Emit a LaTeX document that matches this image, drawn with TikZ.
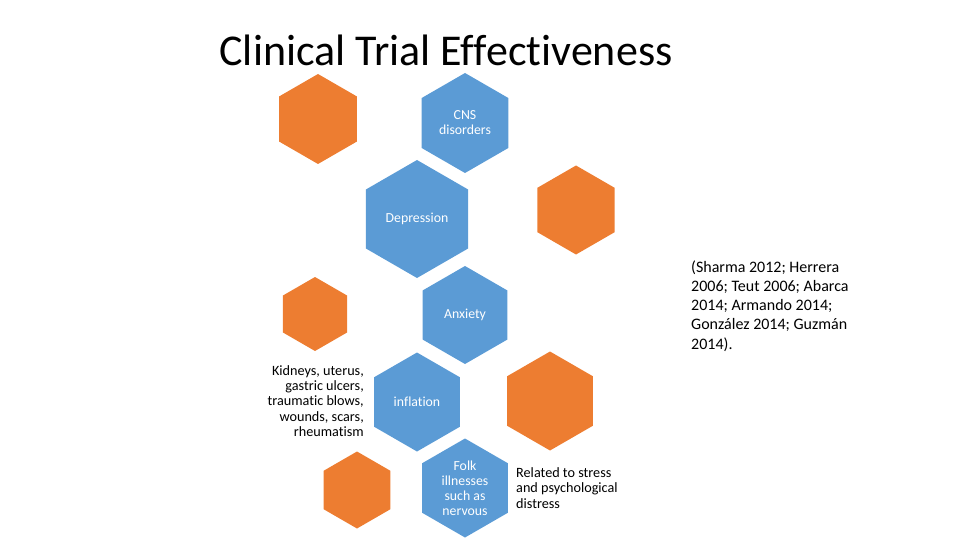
\documentclass[tikz,border=0pt]{standalone}
\usepackage{fontspec}
\setmainfont{Carlito}[Ligatures=NoCommon]
\usepackage{xcolor}
\usepackage{tikz}
\usetikzlibrary{shapes.geometric,positioning}
\definecolor{hexorange}{HTML}{ED7D31}
\definecolor{hexblue}{HTML}{5B9BD5}

\begin{document}
\begin{tikzpicture}[
  x=1pt, y=-1pt,
  hex/.style={regular polygon, regular polygon sides=6, shape border rotate=30,
    inner sep=0pt, outer sep=0pt, draw=none, minimum size=#1},
  orangehex/.style={hex=#1, fill=hexorange},
  bluehex/.style={hex=#1, fill=hexblue},
  hextext/.style={text=white, align=center, font=\fontsize{13.8}{15}\selectfont},
  sidetext/.style={font=\fontsize{14.2}{15.3}\selectfont, inner sep=0pt}
]
\useasboundingbox (0,0) rectangle (960,540);

\node[font=\fontsize{44}{46}\selectfont] (title) at (446,50) {Clinical Trial Effectiveness};

% hexagon column
\node[orangehex=90] (otl) at (318,119) {};
\node[bluehex=100, label={[hextext]center:CNS\\disorders}] (cns) at (465,123) {};
\node[bluehex=118, label={[hextext]center:Depression}] (depr) at (417,219) {};
\node[orangehex=89] (or1) at (576,210) {};
\node[bluehex=98, label={[hextext]center:Anxiety}] (anx) at (465,315) {};
\node[orangehex=74] (ol1) at (315,314) {};
\node[bluehex=99, label={[hextext]center:inflation}] (infl) at (417,402) {};
\node[orangehex=99] (or2) at (550,401) {};
\node[bluehex=99, label={[hextext]center:Folk\\illnesses\\such as\\nervous}] (folk) at (465,488) {};
\node[orangehex=77] (obl) at (357,490) {};

% side notes
\node[sidetext, align=right, anchor=east] (organs) at (364,401)
  {Kidneys, uterus,\\gastric ulcers,\\traumatic blows,\\wounds, scars,\\rheumatism};
\node[sidetext, align=left, anchor=west] (stress) at (516,488)
  {Related to stress\\and psychological\\distress};
\node[sidetext, font=\fontsize{16}{19.2}\selectfont, align=left, anchor=west] (refs) at (691,306)
  {(Sharma 2012; Herrera\\2006; Teut 2006; Abarca\\2014; Armando 2014;\\González 2014; Guzmán\\2014).};
\end{tikzpicture}
\end{document}
